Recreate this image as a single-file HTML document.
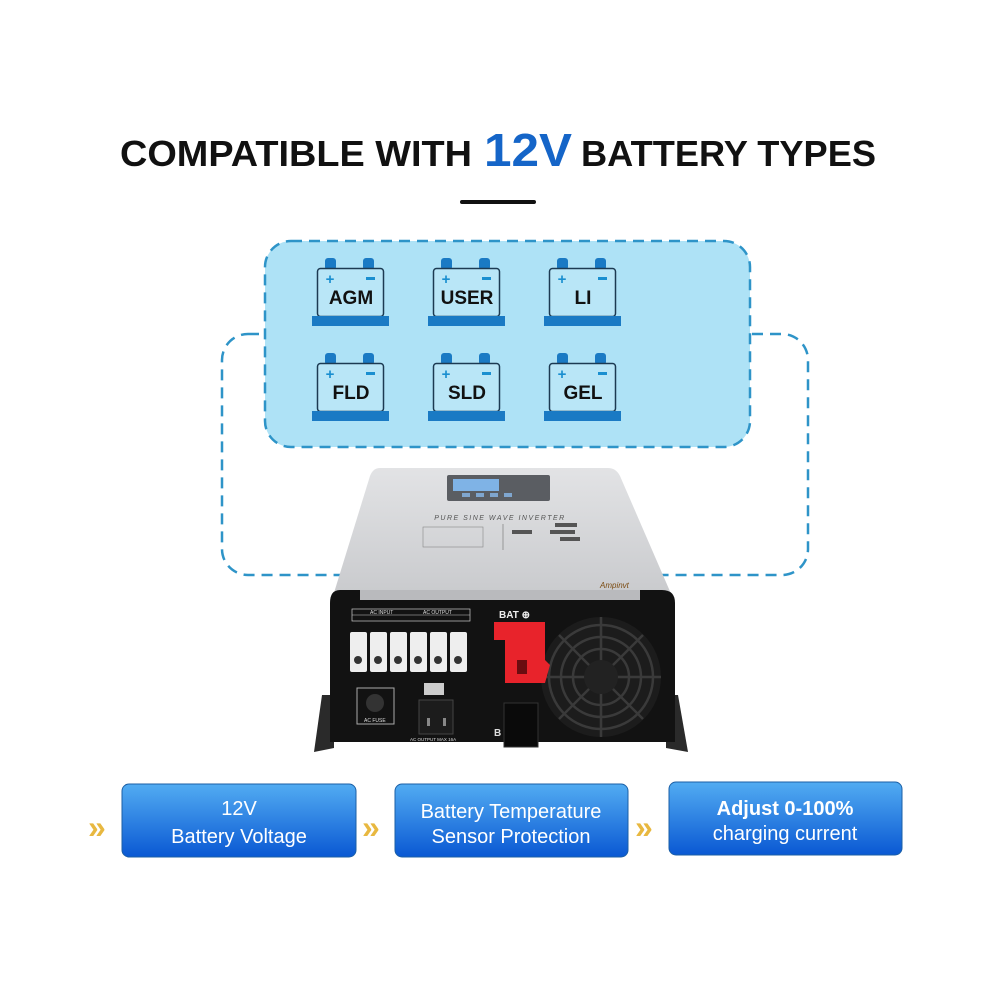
<!DOCTYPE html>
<html><head><meta charset="utf-8"><style>
html,body{margin:0;padding:0;background:#fff;}
svg{display:block;}
</style></head><body>
<svg width="1000" height="1000" viewBox="0 0 1000 1000" xmlns="http://www.w3.org/2000/svg" font-family="Liberation Sans, sans-serif">
<defs>
<linearGradient id="bg" x1="0" y1="0" x2="0" y2="1"><stop offset="0" stop-color="#52acf2"/><stop offset="1" stop-color="#0a58d3"/></linearGradient>
<linearGradient id="top" x1="0" y1="0" x2="0" y2="1"><stop offset="0" stop-color="#e2e3e5"/><stop offset="1" stop-color="#c9cacd"/></linearGradient>
</defs>
<text x="120" y="166" font-size="36" font-weight="bold" fill="#111" textLength="352" lengthAdjust="spacingAndGlyphs">COMPATIBLE WITH</text>
<text x="484" y="166" font-size="46" font-weight="bold" fill="#1565c8" textLength="88" lengthAdjust="spacingAndGlyphs">12V</text>
<text x="581" y="166" font-size="36" font-weight="bold" fill="#111" textLength="295" lengthAdjust="spacingAndGlyphs">BATTERY TYPES</text>
<rect x="460" y="200" width="76" height="4" rx="2" fill="#111"/>

<rect x="222" y="334" width="586" height="241" rx="26" fill="none" stroke="#2e94c8" stroke-width="2.5" stroke-dasharray="11 7"/>
<rect x="265" y="241" width="485" height="206" rx="26" fill="#aee2f6" stroke="#2e94c8" stroke-width="2.5" stroke-dasharray="11 7"/>

<g>
 <g transform="translate(0,0)">
  <rect x="325" y="258" width="11" height="12" rx="3" fill="#1a7ac4"/><rect x="363" y="258" width="11" height="12" rx="3" fill="#1a7ac4"/>
  <rect x="317.5" y="268.5" width="66" height="48" rx="3" fill="#b9e6f7" stroke="#1c3a52" stroke-width="1.5"/>
  <rect x="312" y="316" width="77" height="10" fill="#1a7ac4"/>
  <text x="330" y="284" font-size="15" font-weight="bold" fill="#1a8fd0" text-anchor="middle">+</text>
  <rect x="366" y="277" width="9" height="3" fill="#1a8fd0"/>
  <text x="351" y="304" font-size="19" font-weight="bold" fill="#111" text-anchor="middle">AGM</text>
 </g>
 <g transform="translate(116,0)">
  <rect x="325" y="258" width="11" height="12" rx="3" fill="#1a7ac4"/><rect x="363" y="258" width="11" height="12" rx="3" fill="#1a7ac4"/>
  <rect x="317.5" y="268.5" width="66" height="48" rx="3" fill="#b9e6f7" stroke="#1c3a52" stroke-width="1.5"/>
  <rect x="312" y="316" width="77" height="10" fill="#1a7ac4"/>
  <text x="330" y="284" font-size="15" font-weight="bold" fill="#1a8fd0" text-anchor="middle">+</text>
  <rect x="366" y="277" width="9" height="3" fill="#1a8fd0"/>
  <text x="351" y="304" font-size="19" font-weight="bold" fill="#111" text-anchor="middle">USER</text>
 </g>
 <g transform="translate(232,0)">
  <rect x="325" y="258" width="11" height="12" rx="3" fill="#1a7ac4"/><rect x="363" y="258" width="11" height="12" rx="3" fill="#1a7ac4"/>
  <rect x="317.5" y="268.5" width="66" height="48" rx="3" fill="#b9e6f7" stroke="#1c3a52" stroke-width="1.5"/>
  <rect x="312" y="316" width="77" height="10" fill="#1a7ac4"/>
  <text x="330" y="284" font-size="15" font-weight="bold" fill="#1a8fd0" text-anchor="middle">+</text>
  <rect x="366" y="277" width="9" height="3" fill="#1a8fd0"/>
  <text x="351" y="304" font-size="19" font-weight="bold" fill="#111" text-anchor="middle">LI</text>
 </g>
 <g transform="translate(0,95)">
  <rect x="325" y="258" width="11" height="12" rx="3" fill="#1a7ac4"/><rect x="363" y="258" width="11" height="12" rx="3" fill="#1a7ac4"/>
  <rect x="317.5" y="268.5" width="66" height="48" rx="3" fill="#b9e6f7" stroke="#1c3a52" stroke-width="1.5"/>
  <rect x="312" y="316" width="77" height="10" fill="#1a7ac4"/>
  <text x="330" y="284" font-size="15" font-weight="bold" fill="#1a8fd0" text-anchor="middle">+</text>
  <rect x="366" y="277" width="9" height="3" fill="#1a8fd0"/>
  <text x="351" y="304" font-size="19" font-weight="bold" fill="#111" text-anchor="middle">FLD</text>
 </g>
 <g transform="translate(116,95)">
  <rect x="325" y="258" width="11" height="12" rx="3" fill="#1a7ac4"/><rect x="363" y="258" width="11" height="12" rx="3" fill="#1a7ac4"/>
  <rect x="317.5" y="268.5" width="66" height="48" rx="3" fill="#b9e6f7" stroke="#1c3a52" stroke-width="1.5"/>
  <rect x="312" y="316" width="77" height="10" fill="#1a7ac4"/>
  <text x="330" y="284" font-size="15" font-weight="bold" fill="#1a8fd0" text-anchor="middle">+</text>
  <rect x="366" y="277" width="9" height="3" fill="#1a8fd0"/>
  <text x="351" y="304" font-size="19" font-weight="bold" fill="#111" text-anchor="middle">SLD</text>
 </g>
 <g transform="translate(232,95)">
  <rect x="325" y="258" width="11" height="12" rx="3" fill="#1a7ac4"/><rect x="363" y="258" width="11" height="12" rx="3" fill="#1a7ac4"/>
  <rect x="317.5" y="268.5" width="66" height="48" rx="3" fill="#b9e6f7" stroke="#1c3a52" stroke-width="1.5"/>
  <rect x="312" y="316" width="77" height="10" fill="#1a7ac4"/>
  <text x="330" y="284" font-size="15" font-weight="bold" fill="#1a8fd0" text-anchor="middle">+</text>
  <rect x="366" y="277" width="9" height="3" fill="#1a8fd0"/>
  <text x="351" y="304" font-size="19" font-weight="bold" fill="#111" text-anchor="middle">GEL</text>
 </g>
</g>

<path d="M322 695 L334 695 L334 748 L314 752 Z" fill="#2a2a2a"/>
<path d="M678 695 L666 695 L666 748 L688 752 Z" fill="#2a2a2a"/>
<path d="M380 468 L608 468 Q616 468 620 476 L672 596 L333 596 L370 476 Q373 468 380 468 Z" fill="url(#top)"/>
<rect x="447" y="475" width="103" height="26" rx="2" fill="#5a5d62"/>
<rect x="453" y="479" width="46" height="12" fill="#7fb3e6"/>
<g fill="#7fa6cf"><rect x="462" y="493" width="8" height="4"/><rect x="476" y="493" width="8" height="4"/><rect x="490" y="493" width="8" height="4"/><rect x="504" y="493" width="8" height="4"/></g>
<text x="500" y="520" font-size="7" fill="#555" text-anchor="middle" font-style="italic" letter-spacing="1.5">PURE SINE WAVE INVERTER</text>
<rect x="423" y="527" width="60" height="20" fill="none" stroke="#888" stroke-width="0.6"/>
<line x1="503" y1="524" x2="503" y2="550" stroke="#888" stroke-width="0.8"/>
<rect x="555" y="523" width="22" height="4" fill="#555"/><rect x="512" y="530" width="20" height="4" fill="#555"/><rect x="550" y="530" width="25" height="4" fill="#555"/><rect x="560" y="537" width="20" height="4" fill="#555"/>
<text x="600" y="588" font-size="8" fill="#7a4a10" font-style="italic">Ampinvt</text>
<path d="M340 590 L662 590 Q675 590 675 603 L675 742 L330 742 L330 603 Q330 590 340 590 Z" fill="#121212"/>
<rect x="360" y="590" width="280" height="10" fill="#b9babd"/>
<rect x="352" y="609" width="118" height="12" fill="none" stroke="#ccc" stroke-width="0.7"/>
<line x1="352" y1="615" x2="470" y2="615" stroke="#ccc" stroke-width="0.6"/>
<text x="370" y="614" font-size="5" fill="#ddd">AC INPUT</text><text x="423" y="614" font-size="5" fill="#ddd">AC OUTPUT</text>
<g fill="#eee">
<rect x="350" y="632" width="17" height="40" rx="2"/><rect x="370" y="632" width="17" height="40" rx="2"/><rect x="390" y="632" width="17" height="40" rx="2"/><rect x="410" y="632" width="17" height="40" rx="2"/><rect x="430" y="632" width="17" height="40" rx="2"/><rect x="450" y="632" width="17" height="40" rx="2"/>
</g>
<g fill="#333"><circle cx="358" cy="660" r="4"/><circle cx="378" cy="660" r="4"/><circle cx="398" cy="660" r="4"/><circle cx="418" cy="660" r="4"/><circle cx="438" cy="660" r="4"/><circle cx="458" cy="660" r="4"/></g>
<rect x="357" y="688" width="37" height="36" fill="none" stroke="#aaa" stroke-width="1"/>
<circle cx="375" cy="703" r="9" fill="#333"/>
<text x="364" y="722" font-size="5" fill="#ddd">AC FUSE</text>
<rect x="424" y="683" width="20" height="12" fill="#ccc"/>
<rect x="419" y="700" width="34" height="34" fill="#1c1c1c" stroke="#444"/>
<rect x="427" y="718" width="3" height="8" fill="#888"/><rect x="443" y="718" width="3" height="8" fill="#888"/>
<text x="410" y="741" font-size="4.5" fill="#ddd">AC OUTPUT MAX 16A</text>
<text x="499" y="618" font-size="10" font-weight="bold" fill="#eee">BAT ⊕</text>
<circle cx="601" cy="677" r="60" fill="#1c1c1c"/>
<g fill="none" stroke="#3a3a3a" stroke-width="2.5"><circle cx="601" cy="677" r="52"/><circle cx="601" cy="677" r="40"/><circle cx="601" cy="677" r="28"/>
<path d="M601 617 V737 M541 677 H661 M559 635 L643 719 M643 635 L559 719"/></g>
<circle cx="601" cy="677" r="17" fill="#222"/>
<path d="M494 622 L545 622 L545 660 L550 665 L545 683 L505 683 L505 640 L494 640 Z" fill="#e8232b"/>
<rect x="517" y="660" width="10" height="14" fill="#6b0c10"/>
<rect x="504" y="703" width="34" height="44" fill="#0a0a0a" stroke="#333"/>
<text x="494" y="736" font-size="10" font-weight="bold" fill="#ddd">B</text>

<g font-weight="bold" fill="#e8b840" font-size="32">
<text x="88" y="838">»</text><text x="362" y="838">»</text><text x="635" y="838">»</text>
</g>
<rect x="122" y="784" width="234" height="73" rx="7" fill="url(#bg)" stroke="#1b5fa6" stroke-width="1"/>
<rect x="395" y="784" width="233" height="73" rx="7" fill="url(#bg)" stroke="#1b5fa6" stroke-width="1"/>
<rect x="669" y="782" width="233" height="73" rx="7" fill="url(#bg)" stroke="#1b5fa6" stroke-width="1"/>
<g fill="#fff" font-size="20" text-anchor="middle">
<text x="239" y="815">12V</text>
<text x="239" y="843">Battery Voltage</text>
<text x="511" y="818">Battery Temperature</text>
<text x="511" y="843">Sensor Protection</text>
<text x="785" y="815" font-weight="bold">Adjust 0-100%</text>
<text x="785" y="840">charging current</text>
</g>
</svg>
</body></html>
